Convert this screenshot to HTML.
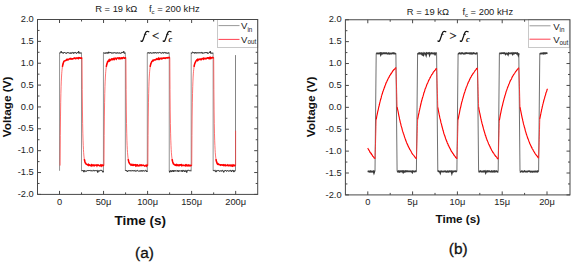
<!DOCTYPE html>
<html><head><meta charset="utf-8"><style>html,body{margin:0;padding:0;background:#fff;width:575px;height:263px;overflow:hidden}svg{display:block}</style></head>
<body>
<svg width="575" height="263" viewBox="0 0 575 263">
<style>text{font-family:"Liberation Sans",sans-serif;fill:#222}.tk{font-size:9.3px;fill:#222}.ti{font-size:9.4px;fill:#222}.ax{font-size:13.5px;font-weight:bold;fill:#111}.fr{font-family:"Liberation Serif",serif;font-style:italic;font-weight:bold;font-size:13px;fill:#111}.fi{font-family:"Liberation Serif",serif;font-style:italic;font-size:12.5px;fill:#111;stroke:#111;stroke-width:0.2}.op{font-family:"Liberation Serif",serif;font-size:12.5px;fill:#111;stroke:#111;stroke-width:0.3}.fc{font-family:"Liberation Serif",serif;font-style:italic;font-weight:bold;font-size:8.5px;fill:#111}.lg{font-size:9.6px;fill:#222}.sb{font-size:6.3px}</style>
<rect width="575" height="263" fill="#fff"/>
<path d="M59.55,170.79L59.55,52.91L59.96,52.95L60.36,53.01L60.77,52.47L61.18,51.35L61.58,52.64L61.99,52.88L62.39,52.88L62.80,52.56L63.21,53.27L63.61,53.15L64.02,52.47L64.43,53.00L64.83,52.44L65.24,52.88L65.64,53.28L66.05,53.33L66.46,53.21L66.86,53.34L67.27,52.50L67.68,52.62L68.08,52.84L68.49,52.71L68.89,52.79L69.30,52.99L69.71,53.31L70.11,53.33L70.52,53.40L70.93,52.57L71.33,53.37L71.74,52.98L72.15,52.62L72.55,52.98L72.96,52.47L73.36,53.40L73.77,53.21L74.18,52.56L74.58,53.17L74.99,52.45L75.40,52.45L75.80,52.74L76.21,53.39L76.61,53.40L77.02,52.48L77.43,52.44L77.83,52.81L78.24,52.56L78.65,51.32L79.05,53.36L79.46,52.78L79.86,52.93L80.27,53.00L80.68,53.03L81.08,52.91L81.49,52.91L81.49,170.79L81.90,171.01L82.30,170.59L82.71,170.81L83.12,170.30L83.52,170.87L83.93,172.14L84.33,170.35L84.74,170.75L85.15,170.64L85.55,171.03L85.96,171.64L86.37,171.25L86.77,170.74L87.18,170.61L87.58,170.60L87.99,170.88L88.40,170.67L88.80,170.32L89.21,171.02L89.62,170.51L90.02,170.53L90.43,170.72L90.83,170.39L91.24,170.62L91.65,170.73L92.05,170.46L92.46,170.94L92.87,170.74L93.27,170.41L93.68,170.48L94.09,171.13L94.49,170.57L94.90,170.93L95.30,170.63L95.71,170.58L96.12,170.56L96.52,170.71L96.93,170.70L97.34,170.44L97.74,172.44L98.15,171.28L98.55,171.24L98.96,170.51L99.37,171.13L99.77,170.81L100.18,170.63L100.59,170.36L100.99,170.58L101.40,170.33L101.80,170.98L102.21,171.19L102.62,170.87L103.02,172.26L103.43,170.79L103.43,52.91L103.84,52.71L104.24,52.93L104.65,53.34L105.06,52.75L105.46,53.27L105.87,53.19L106.27,52.60L106.68,53.22L107.09,53.20L107.49,53.21L107.90,52.41L108.31,53.27L108.71,51.86L109.12,52.93L109.52,52.88L109.93,52.41L110.34,52.53L110.74,52.47L111.15,53.26L111.56,52.91L111.96,52.72L112.37,53.05L112.77,52.77L113.18,52.73L113.59,52.96L113.99,52.79L114.40,52.58L114.81,53.01L115.21,52.79L115.62,53.03L116.03,52.78L116.43,53.11L116.84,53.10L117.24,52.65L117.65,53.10L118.06,52.83L118.46,53.29L118.87,52.78L119.28,53.20L119.68,52.87L120.09,53.22L120.49,53.29L120.90,53.07L121.31,52.97L121.71,52.99L122.12,51.98L122.53,52.45L122.93,52.51L123.34,52.59L123.74,51.35L124.15,53.25L124.56,53.24L124.96,52.98L125.37,52.91L125.37,170.79L125.78,170.32L126.18,170.80L126.59,170.40L127.00,171.22L127.40,171.88L127.81,171.12L128.21,170.47L128.62,170.90L129.03,170.68L129.43,170.69L129.84,170.71L130.25,170.79L130.65,170.70L131.06,170.45L131.46,171.04L131.87,170.81L132.28,170.93L132.68,170.44L133.09,171.04L133.50,170.81L133.90,171.01L134.31,170.56L134.71,170.87L135.12,170.52L135.53,171.24L135.93,170.99L136.34,171.14L136.75,170.56L137.15,170.31L137.56,170.67L137.97,170.65L138.37,171.06L138.78,171.28L139.18,170.89L139.59,171.12L140.00,170.85L140.40,171.01L140.81,170.69L141.22,171.25L141.62,170.52L142.03,171.01L142.43,171.25L142.84,170.53L143.25,170.55L143.65,170.99L144.06,171.19L144.47,171.15L144.87,170.71L145.28,170.37L145.68,171.12L146.09,170.65L146.50,170.96L146.90,171.89L147.31,170.79L147.31,52.91L147.72,52.89L148.12,52.99L148.53,52.80L148.94,52.53L149.34,53.07L149.75,53.29L150.15,52.50L150.56,52.78L150.97,53.16L151.37,53.08L151.78,53.21L152.19,53.16L152.59,53.08L153.00,52.52L153.40,52.76L153.81,53.08L154.22,52.59L154.62,53.04L155.03,53.30L155.44,52.53L155.84,52.55L156.25,53.13L156.65,52.96L157.06,52.86L157.47,52.58L157.87,53.12L158.28,52.95L158.69,52.77L159.09,52.79L159.50,52.45L159.91,52.65L160.31,52.76L160.72,52.81L161.12,53.18L161.53,53.25L161.94,52.68L162.34,52.52L162.75,53.13L163.16,52.60L163.56,53.15L163.97,53.15L164.37,52.55L164.78,52.60L165.19,52.97L165.59,52.66L166.00,52.44L166.41,53.30L166.81,52.79L167.22,52.99L167.62,53.38L168.03,52.71L168.44,52.89L168.84,53.13L169.25,52.91L169.25,170.79L169.66,172.28L170.06,170.78L170.47,170.75L170.88,170.82L171.28,172.04L171.69,170.73L172.09,171.25L172.50,170.42L172.91,170.91L173.31,171.91L173.72,170.37L174.13,171.22L174.53,171.16L174.94,170.42L175.34,170.89L175.75,171.00L176.16,170.63L176.56,171.22L176.97,170.73L177.38,170.77L177.78,170.33L178.19,171.77L178.59,170.79L179.00,170.83L179.41,170.94L179.81,170.75L180.22,170.69L180.63,171.19L181.03,170.66L181.44,170.82L181.85,170.51L182.25,171.78L182.66,170.43L183.06,170.48L183.47,170.46L183.88,170.46L184.28,171.69L184.69,170.78L185.10,171.61L185.50,170.70L185.91,170.34L186.31,170.69L186.72,172.46L187.13,170.38L187.53,170.45L187.94,170.63L188.35,170.34L188.75,170.56L189.16,170.75L189.56,170.59L189.97,170.55L190.38,170.92L190.78,170.38L191.19,170.79L191.19,52.91L191.60,53.38L192.00,52.41L192.41,52.02L192.82,52.44L193.22,53.06L193.63,52.61L194.03,52.88L194.44,53.32L194.85,52.44L195.25,53.01L195.66,52.49L196.07,53.26L196.47,52.80L196.88,53.09L197.28,52.58L197.69,53.14L198.10,52.96L198.50,52.77L198.91,52.64L199.32,52.89L199.72,52.58L200.13,53.01L200.53,52.79L200.94,52.56L201.35,52.43L201.75,53.16L202.16,52.50L202.57,53.25L202.97,53.28L203.38,52.86L203.79,53.14L204.19,52.78L204.60,52.81L205.00,52.51L205.41,52.52L205.82,53.06L206.22,52.45L206.63,53.05L207.04,52.42L207.44,53.37L207.85,52.97L208.25,53.19L208.66,53.19L209.07,52.59L209.47,52.49L209.88,52.52L210.29,51.24L210.69,53.30L211.10,52.87L211.50,53.24L211.91,53.05L212.32,53.28L212.72,53.01L213.13,52.91L213.13,170.79L213.54,170.40L213.94,170.88L214.35,170.49L214.76,170.75L215.16,170.37L215.57,170.77L215.97,172.09L216.38,170.71L216.79,170.89L217.19,170.64L217.60,170.62L218.01,170.37L218.41,170.45L218.82,171.01L219.22,171.28L219.63,171.22L220.04,170.71L220.44,171.19L220.85,170.77L221.26,170.70L221.66,171.21L222.07,171.22L222.47,170.38L222.88,170.58L223.29,170.93L223.69,172.26L224.10,170.72L224.51,171.03L224.91,170.58L225.32,170.59L225.73,170.37L226.13,171.05L226.54,171.26L226.94,171.16L227.35,170.45L227.76,170.75L228.16,170.83L228.57,171.14L228.98,170.75L229.38,171.10L229.79,170.53L230.19,170.30L230.60,170.82L231.01,170.45L231.41,171.77L231.82,170.75L232.23,171.07L232.63,170.32L233.04,170.30L233.44,170.63L233.85,172.08L234.26,170.60L234.66,171.09L235.07,170.79" fill="none" stroke="#666" stroke-width="0.7"/>
<path d="M235.5,171.2V55.1" stroke="#777" stroke-width="0.9" fill="none"/>
<path d="M59.55,52.91L59.96,52.95L60.36,53.01L60.77,52.47L61.18,51.35L61.58,52.64L61.99,52.88L62.39,52.88L62.80,52.56L63.21,53.27L63.61,53.15L64.02,52.47L64.43,53.00L64.83,52.44L65.24,52.88L65.64,53.28L66.05,53.33L66.46,53.21L66.86,53.34L67.27,52.50L67.68,52.62L68.08,52.84L68.49,52.71L68.89,52.79L69.30,52.99L69.71,53.31L70.11,53.33L70.52,53.40L70.93,52.57L71.33,53.37L71.74,52.98L72.15,52.62L72.55,52.98L72.96,52.47L73.36,53.40L73.77,53.21L74.18,52.56L74.58,53.17L74.99,52.45L75.40,52.45L75.80,52.74L76.21,53.39L76.61,53.40L77.02,52.48L77.43,52.44L77.83,52.81L78.24,52.56L78.65,51.32L79.05,53.36L79.46,52.78L79.86,52.93L80.27,53.00L80.68,53.03L81.08,52.91L81.49,52.91M81.49,170.79L81.90,171.01L82.30,170.59L82.71,170.81L83.12,170.30L83.52,170.87L83.93,172.14L84.33,170.35L84.74,170.75L85.15,170.64L85.55,171.03L85.96,171.64L86.37,171.25L86.77,170.74L87.18,170.61L87.58,170.60L87.99,170.88L88.40,170.67L88.80,170.32L89.21,171.02L89.62,170.51L90.02,170.53L90.43,170.72L90.83,170.39L91.24,170.62L91.65,170.73L92.05,170.46L92.46,170.94L92.87,170.74L93.27,170.41L93.68,170.48L94.09,171.13L94.49,170.57L94.90,170.93L95.30,170.63L95.71,170.58L96.12,170.56L96.52,170.71L96.93,170.70L97.34,170.44L97.74,172.44L98.15,171.28L98.55,171.24L98.96,170.51L99.37,171.13L99.77,170.81L100.18,170.63L100.59,170.36L100.99,170.58L101.40,170.33L101.80,170.98L102.21,171.19L102.62,170.87L103.02,172.26L103.43,170.79M103.43,52.91L103.84,52.71L104.24,52.93L104.65,53.34L105.06,52.75L105.46,53.27L105.87,53.19L106.27,52.60L106.68,53.22L107.09,53.20L107.49,53.21L107.90,52.41L108.31,53.27L108.71,51.86L109.12,52.93L109.52,52.88L109.93,52.41L110.34,52.53L110.74,52.47L111.15,53.26L111.56,52.91L111.96,52.72L112.37,53.05L112.77,52.77L113.18,52.73L113.59,52.96L113.99,52.79L114.40,52.58L114.81,53.01L115.21,52.79L115.62,53.03L116.03,52.78L116.43,53.11L116.84,53.10L117.24,52.65L117.65,53.10L118.06,52.83L118.46,53.29L118.87,52.78L119.28,53.20L119.68,52.87L120.09,53.22L120.49,53.29L120.90,53.07L121.31,52.97L121.71,52.99L122.12,51.98L122.53,52.45L122.93,52.51L123.34,52.59L123.74,51.35L124.15,53.25L124.56,53.24L124.96,52.98L125.37,52.91M125.37,170.79L125.78,170.32L126.18,170.80L126.59,170.40L127.00,171.22L127.40,171.88L127.81,171.12L128.21,170.47L128.62,170.90L129.03,170.68L129.43,170.69L129.84,170.71L130.25,170.79L130.65,170.70L131.06,170.45L131.46,171.04L131.87,170.81L132.28,170.93L132.68,170.44L133.09,171.04L133.50,170.81L133.90,171.01L134.31,170.56L134.71,170.87L135.12,170.52L135.53,171.24L135.93,170.99L136.34,171.14L136.75,170.56L137.15,170.31L137.56,170.67L137.97,170.65L138.37,171.06L138.78,171.28L139.18,170.89L139.59,171.12L140.00,170.85L140.40,171.01L140.81,170.69L141.22,171.25L141.62,170.52L142.03,171.01L142.43,171.25L142.84,170.53L143.25,170.55L143.65,170.99L144.06,171.19L144.47,171.15L144.87,170.71L145.28,170.37L145.68,171.12L146.09,170.65L146.50,170.96L146.90,171.89L147.31,170.79M147.31,52.91L147.72,52.89L148.12,52.99L148.53,52.80L148.94,52.53L149.34,53.07L149.75,53.29L150.15,52.50L150.56,52.78L150.97,53.16L151.37,53.08L151.78,53.21L152.19,53.16L152.59,53.08L153.00,52.52L153.40,52.76L153.81,53.08L154.22,52.59L154.62,53.04L155.03,53.30L155.44,52.53L155.84,52.55L156.25,53.13L156.65,52.96L157.06,52.86L157.47,52.58L157.87,53.12L158.28,52.95L158.69,52.77L159.09,52.79L159.50,52.45L159.91,52.65L160.31,52.76L160.72,52.81L161.12,53.18L161.53,53.25L161.94,52.68L162.34,52.52L162.75,53.13L163.16,52.60L163.56,53.15L163.97,53.15L164.37,52.55L164.78,52.60L165.19,52.97L165.59,52.66L166.00,52.44L166.41,53.30L166.81,52.79L167.22,52.99L167.62,53.38L168.03,52.71L168.44,52.89L168.84,53.13L169.25,52.91M169.25,170.79L169.66,172.28L170.06,170.78L170.47,170.75L170.88,170.82L171.28,172.04L171.69,170.73L172.09,171.25L172.50,170.42L172.91,170.91L173.31,171.91L173.72,170.37L174.13,171.22L174.53,171.16L174.94,170.42L175.34,170.89L175.75,171.00L176.16,170.63L176.56,171.22L176.97,170.73L177.38,170.77L177.78,170.33L178.19,171.77L178.59,170.79L179.00,170.83L179.41,170.94L179.81,170.75L180.22,170.69L180.63,171.19L181.03,170.66L181.44,170.82L181.85,170.51L182.25,171.78L182.66,170.43L183.06,170.48L183.47,170.46L183.88,170.46L184.28,171.69L184.69,170.78L185.10,171.61L185.50,170.70L185.91,170.34L186.31,170.69L186.72,172.46L187.13,170.38L187.53,170.45L187.94,170.63L188.35,170.34L188.75,170.56L189.16,170.75L189.56,170.59L189.97,170.55L190.38,170.92L190.78,170.38L191.19,170.79M191.19,52.91L191.60,53.38L192.00,52.41L192.41,52.02L192.82,52.44L193.22,53.06L193.63,52.61L194.03,52.88L194.44,53.32L194.85,52.44L195.25,53.01L195.66,52.49L196.07,53.26L196.47,52.80L196.88,53.09L197.28,52.58L197.69,53.14L198.10,52.96L198.50,52.77L198.91,52.64L199.32,52.89L199.72,52.58L200.13,53.01L200.53,52.79L200.94,52.56L201.35,52.43L201.75,53.16L202.16,52.50L202.57,53.25L202.97,53.28L203.38,52.86L203.79,53.14L204.19,52.78L204.60,52.81L205.00,52.51L205.41,52.52L205.82,53.06L206.22,52.45L206.63,53.05L207.04,52.42L207.44,53.37L207.85,52.97L208.25,53.19L208.66,53.19L209.07,52.59L209.47,52.49L209.88,52.52L210.29,51.24L210.69,53.30L211.10,52.87L211.50,53.24L211.91,53.05L212.32,53.28L212.72,53.01L213.13,52.91M213.13,170.79L213.54,170.40L213.94,170.88L214.35,170.49L214.76,170.75L215.16,170.37L215.57,170.77L215.97,172.09L216.38,170.71L216.79,170.89L217.19,170.64L217.60,170.62L218.01,170.37L218.41,170.45L218.82,171.01L219.22,171.28L219.63,171.22L220.04,170.71L220.44,171.19L220.85,170.77L221.26,170.70L221.66,171.21L222.07,171.22L222.47,170.38L222.88,170.58L223.29,170.93L223.69,172.26L224.10,170.72L224.51,171.03L224.91,170.58L225.32,170.59L225.73,170.37L226.13,171.05L226.54,171.26L226.94,171.16L227.35,170.45L227.76,170.75L228.16,170.83L228.57,171.14L228.98,170.75L229.38,171.10L229.79,170.53L230.19,170.30L230.60,170.82L231.01,170.45L231.41,171.77L231.82,170.75L232.23,171.07L232.63,170.32L233.04,170.30L233.44,170.63L233.85,172.08L234.26,170.60L234.66,171.09L235.07,170.79" fill="none" stroke="#333" stroke-width="1.0"/>
<path d="M60.10,165.59L60.30,135.54L60.50,116.05L60.70,102.79L60.90,93.36L61.10,86.40L61.30,81.13L61.50,77.05L61.70,73.85L61.90,71.31L62.10,69.27L62.40,66.94L62.70,65.23L63.00,63.97L63.30,62.95L63.70,61.89L64.10,61.04L64.60,60.87L65.00,60.74L65.40,60.53L65.80,60.56L66.20,60.27L66.60,59.56L67.00,59.31L67.40,59.81L67.80,59.73L68.20,59.34L68.60,59.57L69.00,59.20L69.40,58.84L69.80,58.65L70.20,58.42L70.60,58.98L71.00,59.16L71.40,59.11L71.80,58.61L72.20,58.75L72.60,58.96L73.00,58.80L73.40,58.54L73.80,58.31L74.20,58.37L74.60,57.98L75.00,57.95L75.40,58.42L75.80,58.69L76.20,58.22L76.60,58.05L77.00,57.96L77.40,58.04L77.80,58.36L78.20,57.99L78.60,58.47L79.00,57.65L79.40,57.79L79.80,57.97L80.20,57.85L80.60,58.27L81.00,58.23L81.40,58.32L81.80,57.87L82.04,57.86L82.04,57.63L82.24,89.55L82.44,109.95L82.64,123.62L82.84,133.21L83.04,140.20L83.24,145.44L83.44,149.45L83.64,152.58L83.84,155.04L84.04,156.98L84.34,159.19L84.64,160.77L84.94,161.91L85.24,162.84L85.64,163.01L86.04,164.06L86.54,164.43L86.94,164.57L87.34,164.50L87.74,165.04L88.14,165.31L88.54,164.56L88.94,165.17L89.34,164.92L89.74,165.09L90.14,165.50L90.54,165.59L90.94,165.30L91.34,164.87L91.74,165.62L92.14,164.90L92.54,165.12L92.94,165.58L93.34,165.09L93.74,165.06L94.14,165.75L94.54,165.76L94.94,165.14L95.34,165.23L95.74,165.13L96.14,164.99L96.54,165.12L96.94,165.86L97.34,164.97L97.74,165.13L98.14,165.11L98.54,165.00L98.94,165.45L99.34,165.68L99.74,165.78L100.14,165.58L100.54,165.77L100.94,164.97L101.34,165.25L101.74,165.94L102.14,165.05L102.54,165.25L102.94,165.47L103.34,165.26L103.74,165.50L103.98,165.50L103.98,165.59L104.18,135.54L104.38,116.05L104.58,102.79L104.78,93.36L104.98,86.40L105.18,81.13L105.38,77.05L105.58,73.85L105.78,71.31L105.98,69.27L106.28,66.94L106.58,65.23L106.88,63.97L107.18,63.08L107.58,61.68L107.98,61.23L108.48,61.39L108.88,60.25L109.28,60.76L109.68,59.82L110.08,60.46L110.48,59.99L110.88,59.82L111.28,59.19L111.68,58.99L112.08,59.59L112.48,58.91L112.88,58.84L113.28,59.38L113.68,59.35L114.08,58.45L114.48,59.29L114.88,58.80L115.28,58.59L115.68,58.25L116.08,58.48L116.48,59.02L116.88,58.26L117.28,58.07L117.68,58.04L118.08,57.98L118.48,58.16L118.88,58.69L119.28,57.81L119.68,57.89L120.08,58.61L120.48,58.64L120.88,58.59L121.28,57.83L121.68,57.91L122.08,58.49L122.48,58.00L122.88,58.19L123.28,57.78L123.68,57.47L124.08,57.78L124.48,58.17L124.88,58.18L125.28,57.95L125.68,57.87L125.92,57.86L125.92,57.63L126.12,89.55L126.32,109.95L126.52,123.62L126.72,133.21L126.92,140.20L127.12,145.44L127.32,149.45L127.52,152.58L127.72,155.04L127.92,156.98L128.22,159.19L128.52,160.77L128.82,161.91L129.12,162.69L129.52,163.52L129.92,163.92L130.42,164.41L130.82,164.92L131.22,164.42L131.62,164.92L132.02,165.33L132.42,165.31L132.82,164.69L133.22,165.51L133.62,165.42L134.02,164.77L134.42,164.90L134.82,164.86L135.22,164.73L135.62,165.68L136.02,165.13L136.42,165.61L136.82,164.87L137.22,164.78L137.62,165.65L138.02,165.59L138.42,165.81L138.82,165.51L139.22,165.36L139.62,165.62L140.02,164.96L140.42,165.41L140.82,165.33L141.22,165.04L141.62,165.50L142.02,165.24L142.42,165.43L142.82,165.30L143.22,165.25L143.62,165.30L144.02,165.55L144.42,165.94L144.82,165.90L145.22,165.83L145.62,165.81L146.02,165.27L146.42,165.96L146.82,165.26L147.22,165.12L147.62,165.50L147.86,165.50L147.86,165.59L148.06,135.54L148.26,116.05L148.46,102.79L148.66,93.36L148.86,86.40L149.06,81.13L149.26,77.05L149.46,73.85L149.66,71.31L149.86,69.27L150.16,66.94L150.46,65.23L150.76,63.97L151.06,63.04L151.46,62.36L151.86,61.34L152.36,61.08L152.76,60.39L153.16,60.82L153.56,60.10L153.96,59.94L154.36,59.84L154.76,60.05L155.16,60.04L155.56,59.47L155.96,59.28L156.36,59.35L156.76,58.71L157.16,58.99L157.56,59.33L157.96,59.18L158.36,58.39L158.76,59.12L159.16,58.59L159.56,59.12L159.96,58.45L160.36,58.25L160.76,58.53L161.16,58.82L161.56,58.32L161.96,58.72L162.36,58.52L162.76,58.13L163.16,58.04L163.56,58.21L163.96,58.07L164.36,58.01L164.76,58.26L165.16,58.46L165.56,58.14L165.96,57.68L166.36,57.73L166.76,57.86L167.16,58.09L167.56,57.59L167.96,57.52L168.36,57.74L168.76,57.68L169.16,57.42L169.56,57.87L169.80,57.86L169.80,57.63L170.00,89.55L170.20,109.95L170.40,123.62L170.60,133.21L170.80,140.20L171.00,145.44L171.20,149.45L171.40,152.58L171.60,155.04L171.80,156.98L172.10,159.19L172.40,160.77L172.70,161.91L173.00,162.77L173.40,163.90L173.80,164.02L174.30,164.62L174.70,164.91L175.10,165.06L175.50,165.24L175.90,164.84L176.30,165.14L176.70,164.63L177.10,165.42L177.50,164.96L177.90,165.08L178.30,165.52L178.70,164.94L179.10,164.87L179.50,165.52L179.90,165.32L180.30,164.82L180.70,164.78L181.10,165.12L181.50,164.79L181.90,165.63L182.30,165.00L182.70,165.10L183.10,165.23L183.50,165.36L183.90,165.30L184.30,165.50L184.70,165.54L185.10,165.33L185.50,165.00L185.90,165.89L186.30,165.61L186.70,165.01L187.10,165.38L187.50,165.70L187.90,165.94L188.30,165.02L188.70,164.97L189.10,165.45L189.50,165.40L189.90,165.87L190.30,165.81L190.70,165.32L191.10,165.41L191.50,165.50L191.74,165.50L191.74,165.59L191.94,135.54L192.14,116.05L192.34,102.79L192.54,93.36L192.74,86.40L192.94,81.13L193.14,77.05L193.34,73.85L193.54,71.31L193.74,69.27L194.04,66.94L194.34,65.23L194.64,63.97L194.94,63.12L195.34,62.52L195.74,61.20L196.24,60.83L196.64,60.20L197.04,60.49L197.44,59.67L197.84,60.40L198.24,59.84L198.64,59.75L199.04,59.14L199.44,59.17L199.84,59.30L200.24,59.59L200.64,59.18L201.04,58.84L201.44,59.46L201.84,59.07L202.24,58.86L202.64,58.47L203.04,58.50L203.44,59.04L203.84,58.22L204.24,58.56L204.64,58.60L205.04,58.29L205.44,58.66L205.84,58.76L206.24,58.67L206.64,58.51L207.04,57.94L207.44,57.76L207.84,58.10L208.24,57.95L208.64,57.80L209.04,58.46L209.44,57.77L209.84,58.36L210.24,58.45L210.64,57.61L211.04,58.38L211.44,57.85L211.84,57.65L212.24,57.60L212.64,57.44L213.04,57.88L213.44,57.87L213.68,57.86L213.68,57.63L213.88,89.55L214.08,109.95L214.28,123.62L214.48,133.21L214.68,140.20L214.88,145.44L215.08,149.45L215.28,152.58L215.48,155.04L215.68,156.98L215.98,159.19L216.28,160.77L216.58,161.91L216.88,162.61L217.28,163.84L217.68,164.31L218.18,163.93L218.58,164.48L218.98,164.61L219.38,164.50L219.78,164.65L220.18,164.72L220.58,165.20L220.98,164.88L221.38,164.69L221.78,164.83L222.18,165.07L222.58,165.22L222.98,164.92L223.38,165.40L223.78,164.93L224.18,165.41L224.58,165.36L224.98,164.95L225.38,165.54L225.78,165.19L226.18,165.35L226.58,165.42L226.98,165.47L227.38,165.29L227.78,164.92L228.18,165.66L228.58,165.74L228.98,165.38L229.38,165.48L229.78,165.18L230.18,165.82L230.58,165.61L230.98,165.16L231.38,165.76L231.78,165.94L232.18,165.30L232.58,165.96L232.98,165.45L233.38,165.15L233.78,165.70L234.18,165.32L234.58,165.72L234.98,165.58L235.38,165.50L235.62,165.50L235.62,130.69" fill="none" stroke="#f33" stroke-width="0.7"/>
<path d="M62.40,66.94L62.70,65.23L63.00,63.97L63.30,62.95L63.70,61.89L64.10,61.04L64.60,60.87L65.00,60.74L65.40,60.53L65.80,60.56L66.20,60.27L66.60,59.56L67.00,59.31L67.40,59.81L67.80,59.73L68.20,59.34L68.60,59.57L69.00,59.20L69.40,58.84L69.80,58.65L70.20,58.42L70.60,58.98L71.00,59.16L71.40,59.11L71.80,58.61L72.20,58.75L72.60,58.96L73.00,58.80L73.40,58.54L73.80,58.31L74.20,58.37L74.60,57.98L75.00,57.95L75.40,58.42L75.80,58.69L76.20,58.22L76.60,58.05L77.00,57.96L77.40,58.04L77.80,58.36L78.20,57.99L78.60,58.47L79.00,57.65L79.40,57.79L79.80,57.97L80.20,57.85L80.60,58.27L81.00,58.23L81.40,58.32L81.80,57.87L82.04,57.86M84.34,159.19L84.64,160.77L84.94,161.91L85.24,162.84L85.64,163.01L86.04,164.06L86.54,164.43L86.94,164.57L87.34,164.50L87.74,165.04L88.14,165.31L88.54,164.56L88.94,165.17L89.34,164.92L89.74,165.09L90.14,165.50L90.54,165.59L90.94,165.30L91.34,164.87L91.74,165.62L92.14,164.90L92.54,165.12L92.94,165.58L93.34,165.09L93.74,165.06L94.14,165.75L94.54,165.76L94.94,165.14L95.34,165.23L95.74,165.13L96.14,164.99L96.54,165.12L96.94,165.86L97.34,164.97L97.74,165.13L98.14,165.11L98.54,165.00L98.94,165.45L99.34,165.68L99.74,165.78L100.14,165.58L100.54,165.77L100.94,164.97L101.34,165.25L101.74,165.94L102.14,165.05L102.54,165.25L102.94,165.47L103.34,165.26L103.74,165.50L103.98,165.50M106.28,66.94L106.58,65.23L106.88,63.97L107.18,63.08L107.58,61.68L107.98,61.23L108.48,61.39L108.88,60.25L109.28,60.76L109.68,59.82L110.08,60.46L110.48,59.99L110.88,59.82L111.28,59.19L111.68,58.99L112.08,59.59L112.48,58.91L112.88,58.84L113.28,59.38L113.68,59.35L114.08,58.45L114.48,59.29L114.88,58.80L115.28,58.59L115.68,58.25L116.08,58.48L116.48,59.02L116.88,58.26L117.28,58.07L117.68,58.04L118.08,57.98L118.48,58.16L118.88,58.69L119.28,57.81L119.68,57.89L120.08,58.61L120.48,58.64L120.88,58.59L121.28,57.83L121.68,57.91L122.08,58.49L122.48,58.00L122.88,58.19L123.28,57.78L123.68,57.47L124.08,57.78L124.48,58.17L124.88,58.18L125.28,57.95L125.68,57.87L125.92,57.86M128.22,159.19L128.52,160.77L128.82,161.91L129.12,162.69L129.52,163.52L129.92,163.92L130.42,164.41L130.82,164.92L131.22,164.42L131.62,164.92L132.02,165.33L132.42,165.31L132.82,164.69L133.22,165.51L133.62,165.42L134.02,164.77L134.42,164.90L134.82,164.86L135.22,164.73L135.62,165.68L136.02,165.13L136.42,165.61L136.82,164.87L137.22,164.78L137.62,165.65L138.02,165.59L138.42,165.81L138.82,165.51L139.22,165.36L139.62,165.62L140.02,164.96L140.42,165.41L140.82,165.33L141.22,165.04L141.62,165.50L142.02,165.24L142.42,165.43L142.82,165.30L143.22,165.25L143.62,165.30L144.02,165.55L144.42,165.94L144.82,165.90L145.22,165.83L145.62,165.81L146.02,165.27L146.42,165.96L146.82,165.26L147.22,165.12L147.62,165.50L147.86,165.50M150.16,66.94L150.46,65.23L150.76,63.97L151.06,63.04L151.46,62.36L151.86,61.34L152.36,61.08L152.76,60.39L153.16,60.82L153.56,60.10L153.96,59.94L154.36,59.84L154.76,60.05L155.16,60.04L155.56,59.47L155.96,59.28L156.36,59.35L156.76,58.71L157.16,58.99L157.56,59.33L157.96,59.18L158.36,58.39L158.76,59.12L159.16,58.59L159.56,59.12L159.96,58.45L160.36,58.25L160.76,58.53L161.16,58.82L161.56,58.32L161.96,58.72L162.36,58.52L162.76,58.13L163.16,58.04L163.56,58.21L163.96,58.07L164.36,58.01L164.76,58.26L165.16,58.46L165.56,58.14L165.96,57.68L166.36,57.73L166.76,57.86L167.16,58.09L167.56,57.59L167.96,57.52L168.36,57.74L168.76,57.68L169.16,57.42L169.56,57.87L169.80,57.86M172.10,159.19L172.40,160.77L172.70,161.91L173.00,162.77L173.40,163.90L173.80,164.02L174.30,164.62L174.70,164.91L175.10,165.06L175.50,165.24L175.90,164.84L176.30,165.14L176.70,164.63L177.10,165.42L177.50,164.96L177.90,165.08L178.30,165.52L178.70,164.94L179.10,164.87L179.50,165.52L179.90,165.32L180.30,164.82L180.70,164.78L181.10,165.12L181.50,164.79L181.90,165.63L182.30,165.00L182.70,165.10L183.10,165.23L183.50,165.36L183.90,165.30L184.30,165.50L184.70,165.54L185.10,165.33L185.50,165.00L185.90,165.89L186.30,165.61L186.70,165.01L187.10,165.38L187.50,165.70L187.90,165.94L188.30,165.02L188.70,164.97L189.10,165.45L189.50,165.40L189.90,165.87L190.30,165.81L190.70,165.32L191.10,165.41L191.50,165.50L191.74,165.50M194.04,66.94L194.34,65.23L194.64,63.97L194.94,63.12L195.34,62.52L195.74,61.20L196.24,60.83L196.64,60.20L197.04,60.49L197.44,59.67L197.84,60.40L198.24,59.84L198.64,59.75L199.04,59.14L199.44,59.17L199.84,59.30L200.24,59.59L200.64,59.18L201.04,58.84L201.44,59.46L201.84,59.07L202.24,58.86L202.64,58.47L203.04,58.50L203.44,59.04L203.84,58.22L204.24,58.56L204.64,58.60L205.04,58.29L205.44,58.66L205.84,58.76L206.24,58.67L206.64,58.51L207.04,57.94L207.44,57.76L207.84,58.10L208.24,57.95L208.64,57.80L209.04,58.46L209.44,57.77L209.84,58.36L210.24,58.45L210.64,57.61L211.04,58.38L211.44,57.85L211.84,57.65L212.24,57.60L212.64,57.44L213.04,57.88L213.44,57.87L213.68,57.86M215.98,159.19L216.28,160.77L216.58,161.91L216.88,162.61L217.28,163.84L217.68,164.31L218.18,163.93L218.58,164.48L218.98,164.61L219.38,164.50L219.78,164.65L220.18,164.72L220.58,165.20L220.98,164.88L221.38,164.69L221.78,164.83L222.18,165.07L222.58,165.22L222.98,164.92L223.38,165.40L223.78,164.93L224.18,165.41L224.58,165.36L224.98,164.95L225.38,165.54L225.78,165.19L226.18,165.35L226.58,165.42L226.98,165.47L227.38,165.29L227.78,164.92L228.18,165.66L228.58,165.74L228.98,165.38L229.38,165.48L229.78,165.18L230.18,165.82L230.58,165.61L230.98,165.16L231.38,165.76L231.78,165.94L232.18,165.30L232.58,165.96L232.98,165.45L233.38,165.15L233.78,165.70L234.18,165.32L234.58,165.72L234.98,165.58L235.38,165.50L235.62,165.50" fill="none" stroke="#f00" stroke-width="1.5"/>
<path d="M367.70,171.44L368.22,171.46L368.74,171.43L369.26,171.70L369.79,171.44L370.31,171.67L370.83,171.16L371.35,171.48L371.87,171.72L372.39,171.47L372.91,171.68L373.44,171.30L373.96,172.86L374.48,171.34L375.00,171.44L376.20,53.39L376.71,53.43L377.21,53.53L377.72,53.31L378.22,53.42L378.73,53.54L379.23,53.31L379.74,53.32L380.24,53.11L380.75,54.62L381.25,53.39L381.76,53.11L382.26,53.68L382.77,53.40L383.27,53.08L383.78,53.26L384.28,53.12L384.79,53.37L385.29,53.22L385.80,53.17L386.30,53.39L386.81,53.19L387.31,53.59L387.82,53.67L388.32,53.53L388.83,53.19L389.33,53.72L389.84,53.57L390.34,53.50L390.85,53.39L391.35,53.65L391.86,53.39L392.36,53.34L392.87,53.22L393.37,53.45L393.88,53.07L394.38,53.49L394.89,53.57L395.39,53.70L395.90,53.39L397.10,171.44L397.61,171.60L398.12,171.12L398.62,171.62L399.13,171.24L399.64,171.78L400.15,171.43L400.66,171.20L401.16,171.56L401.67,171.21L402.18,171.53L402.69,171.19L403.19,172.32L403.70,171.37L404.21,171.79L404.72,171.28L405.23,171.10L405.73,171.58L406.24,171.12L406.75,171.32L407.26,171.17L407.77,171.37L408.27,171.41L408.78,171.32L409.29,171.41L409.80,171.34L410.31,171.39L410.81,171.32L411.32,171.48L411.83,171.30L412.34,172.27L412.84,171.23L413.35,171.28L413.86,171.52L414.37,171.61L414.88,171.39L415.38,171.14L415.89,171.44L416.40,171.44L417.60,53.39L418.10,53.69L418.60,53.47L419.10,53.13L419.60,53.15L420.10,53.74L420.60,53.39L421.10,53.21L421.60,53.33L422.10,54.61L422.60,54.82L423.10,53.67L423.60,54.79L424.10,53.37L424.60,53.25L425.10,53.47L425.60,53.71L426.10,55.05L426.60,53.10L427.10,53.41L427.60,53.39L428.10,53.09L428.60,53.40L429.10,53.04L429.60,54.80L430.10,53.33L430.60,53.43L431.10,53.36L431.60,53.06L432.10,53.55L432.60,53.37L433.10,53.29L433.60,53.56L434.10,53.37L434.60,53.27L435.10,54.40L435.60,53.46L436.10,53.16L436.60,53.39L437.80,171.44L438.30,171.22L438.81,171.27L439.31,171.49L439.81,171.40L440.31,172.90L440.82,171.35L441.32,171.29L441.82,171.25L442.32,171.52L442.83,171.60L443.33,171.63L443.83,171.36L444.33,171.40L444.84,171.37L445.34,171.60L445.84,171.23L446.34,171.65L446.85,171.78L447.35,171.64L447.85,171.18L448.36,171.76L448.86,171.69L449.36,171.40L449.86,171.25L450.37,171.39L450.87,171.40L451.37,171.27L451.87,173.10L452.38,171.36L452.88,171.29L453.38,171.72L453.88,171.25L454.39,171.25L454.89,171.33L455.39,171.25L455.89,171.49L456.40,171.45L456.90,171.44L458.10,53.39L458.61,53.62L459.12,53.56L459.62,53.09L460.13,53.18L460.64,53.71L461.15,53.68L461.66,53.12L462.16,53.08L462.67,53.22L463.18,53.70L463.69,53.68L464.19,53.50L464.70,53.67L465.21,53.28L465.72,53.45L466.23,53.12L466.73,53.05L467.24,53.28L467.75,53.27L468.26,53.26L468.77,53.32L469.27,53.24L469.78,53.58L470.29,53.57L470.80,53.12L471.31,53.63L471.81,53.30L472.32,53.63L472.83,53.29L473.34,53.04L473.84,53.37L474.35,53.35L474.86,53.54L475.37,53.72L475.88,53.64L476.38,53.59L476.89,53.09L477.40,53.39L478.60,171.44L479.10,171.68L479.61,171.71L480.11,171.13L480.61,171.17L481.11,171.41L481.62,171.65L482.12,171.57L482.62,171.48L483.12,171.72L483.63,171.15L484.13,171.29L484.63,171.11L485.13,171.60L485.64,172.70L486.14,171.24L486.64,171.62L487.14,171.63L487.65,171.10L488.15,171.47L488.65,171.25L489.15,171.18L489.66,171.41L490.16,171.56L490.66,171.60L491.16,171.70L491.67,171.26L492.17,171.72L492.67,171.37L493.17,171.58L493.68,171.33L494.18,171.64L494.68,171.15L495.18,171.61L495.69,171.38L496.19,171.40L496.69,171.16L497.19,171.51L497.70,171.76L498.20,171.44L499.40,53.39L499.91,53.36L500.42,53.46L500.93,53.38L501.44,53.38L501.95,53.17L502.46,53.25L502.97,53.09L503.48,53.35L503.99,53.18L504.51,53.13L505.02,53.44L505.53,54.35L506.04,53.71L506.55,53.43L507.06,53.50L507.57,53.51L508.08,54.58L508.59,53.07L509.10,53.26L509.61,53.47L510.12,53.38L510.63,53.40L511.14,53.08L511.65,53.29L512.16,53.28L512.67,54.22L513.18,53.10L513.69,53.44L514.21,53.53L514.72,53.08L515.23,53.20L515.74,53.14L516.25,53.21L516.76,53.61L517.27,53.14L517.78,53.53L518.29,55.02L518.80,53.39L520.00,171.44L520.50,171.75L521.01,171.53L521.51,171.28L522.01,171.18L522.51,171.65L523.02,171.62L523.52,171.71L524.02,171.58L524.52,171.12L525.03,171.35L525.53,171.56L526.03,171.61L526.54,171.58L527.04,171.45L527.54,171.66L528.04,171.34L528.55,171.25L529.05,171.09L529.55,171.43L530.05,171.49L530.56,171.77L531.06,171.50L531.56,171.71L532.06,171.67L532.57,171.79L533.07,171.37L533.57,171.55L534.08,171.62L534.58,171.67L535.08,171.31L535.58,171.56L536.09,171.49L536.59,171.54L537.09,171.29L537.59,171.71L538.10,171.29L538.60,171.44L539.80,53.39L540.31,53.55L540.81,53.49L541.32,53.54L541.83,53.30L542.33,53.35L542.84,53.56L543.35,53.11L543.85,53.70L544.36,53.44L544.87,53.06L545.37,53.47L545.88,53.25L546.39,53.12L546.89,53.22L547.40,53.39" fill="none" stroke="#606060" stroke-width="0.9"/>
<path d="M367.70,171.44L368.22,171.46L368.74,171.43L369.26,171.70L369.79,171.44L370.31,171.67L370.83,171.16L371.35,171.48L371.87,171.72L372.39,171.47L372.91,171.68L373.44,171.30L373.96,172.86L374.48,171.34L375.00,171.44M376.20,53.39L376.71,53.43L377.21,53.53L377.72,53.31L378.22,53.42L378.73,53.54L379.23,53.31L379.74,53.32L380.24,53.11L380.75,54.62L381.25,53.39L381.76,53.11L382.26,53.68L382.77,53.40L383.27,53.08L383.78,53.26L384.28,53.12L384.79,53.37L385.29,53.22L385.80,53.17L386.30,53.39L386.81,53.19L387.31,53.59L387.82,53.67L388.32,53.53L388.83,53.19L389.33,53.72L389.84,53.57L390.34,53.50L390.85,53.39L391.35,53.65L391.86,53.39L392.36,53.34L392.87,53.22L393.37,53.45L393.88,53.07L394.38,53.49L394.89,53.57L395.39,53.70L395.90,53.39M397.10,171.44L397.61,171.60L398.12,171.12L398.62,171.62L399.13,171.24L399.64,171.78L400.15,171.43L400.66,171.20L401.16,171.56L401.67,171.21L402.18,171.53L402.69,171.19L403.19,172.32L403.70,171.37L404.21,171.79L404.72,171.28L405.23,171.10L405.73,171.58L406.24,171.12L406.75,171.32L407.26,171.17L407.77,171.37L408.27,171.41L408.78,171.32L409.29,171.41L409.80,171.34L410.31,171.39L410.81,171.32L411.32,171.48L411.83,171.30L412.34,172.27L412.84,171.23L413.35,171.28L413.86,171.52L414.37,171.61L414.88,171.39L415.38,171.14L415.89,171.44L416.40,171.44M417.60,53.39L418.10,53.69L418.60,53.47L419.10,53.13L419.60,53.15L420.10,53.74L420.60,53.39L421.10,53.21L421.60,53.33L422.10,54.61L422.60,54.82L423.10,53.67L423.60,54.79L424.10,53.37L424.60,53.25L425.10,53.47L425.60,53.71L426.10,55.05L426.60,53.10L427.10,53.41L427.60,53.39L428.10,53.09L428.60,53.40L429.10,53.04L429.60,54.80L430.10,53.33L430.60,53.43L431.10,53.36L431.60,53.06L432.10,53.55L432.60,53.37L433.10,53.29L433.60,53.56L434.10,53.37L434.60,53.27L435.10,54.40L435.60,53.46L436.10,53.16L436.60,53.39M437.80,171.44L438.30,171.22L438.81,171.27L439.31,171.49L439.81,171.40L440.31,172.90L440.82,171.35L441.32,171.29L441.82,171.25L442.32,171.52L442.83,171.60L443.33,171.63L443.83,171.36L444.33,171.40L444.84,171.37L445.34,171.60L445.84,171.23L446.34,171.65L446.85,171.78L447.35,171.64L447.85,171.18L448.36,171.76L448.86,171.69L449.36,171.40L449.86,171.25L450.37,171.39L450.87,171.40L451.37,171.27L451.87,173.10L452.38,171.36L452.88,171.29L453.38,171.72L453.88,171.25L454.39,171.25L454.89,171.33L455.39,171.25L455.89,171.49L456.40,171.45L456.90,171.44M458.10,53.39L458.61,53.62L459.12,53.56L459.62,53.09L460.13,53.18L460.64,53.71L461.15,53.68L461.66,53.12L462.16,53.08L462.67,53.22L463.18,53.70L463.69,53.68L464.19,53.50L464.70,53.67L465.21,53.28L465.72,53.45L466.23,53.12L466.73,53.05L467.24,53.28L467.75,53.27L468.26,53.26L468.77,53.32L469.27,53.24L469.78,53.58L470.29,53.57L470.80,53.12L471.31,53.63L471.81,53.30L472.32,53.63L472.83,53.29L473.34,53.04L473.84,53.37L474.35,53.35L474.86,53.54L475.37,53.72L475.88,53.64L476.38,53.59L476.89,53.09L477.40,53.39M478.60,171.44L479.10,171.68L479.61,171.71L480.11,171.13L480.61,171.17L481.11,171.41L481.62,171.65L482.12,171.57L482.62,171.48L483.12,171.72L483.63,171.15L484.13,171.29L484.63,171.11L485.13,171.60L485.64,172.70L486.14,171.24L486.64,171.62L487.14,171.63L487.65,171.10L488.15,171.47L488.65,171.25L489.15,171.18L489.66,171.41L490.16,171.56L490.66,171.60L491.16,171.70L491.67,171.26L492.17,171.72L492.67,171.37L493.17,171.58L493.68,171.33L494.18,171.64L494.68,171.15L495.18,171.61L495.69,171.38L496.19,171.40L496.69,171.16L497.19,171.51L497.70,171.76L498.20,171.44M499.40,53.39L499.91,53.36L500.42,53.46L500.93,53.38L501.44,53.38L501.95,53.17L502.46,53.25L502.97,53.09L503.48,53.35L503.99,53.18L504.51,53.13L505.02,53.44L505.53,54.35L506.04,53.71L506.55,53.43L507.06,53.50L507.57,53.51L508.08,54.58L508.59,53.07L509.10,53.26L509.61,53.47L510.12,53.38L510.63,53.40L511.14,53.08L511.65,53.29L512.16,53.28L512.67,54.22L513.18,53.10L513.69,53.44L514.21,53.53L514.72,53.08L515.23,53.20L515.74,53.14L516.25,53.21L516.76,53.61L517.27,53.14L517.78,53.53L518.29,55.02L518.80,53.39M520.00,171.44L520.50,171.75L521.01,171.53L521.51,171.28L522.01,171.18L522.51,171.65L523.02,171.62L523.52,171.71L524.02,171.58L524.52,171.12L525.03,171.35L525.53,171.56L526.03,171.61L526.54,171.58L527.04,171.45L527.54,171.66L528.04,171.34L528.55,171.25L529.05,171.09L529.55,171.43L530.05,171.49L530.56,171.77L531.06,171.50L531.56,171.71L532.06,171.67L532.57,171.79L533.07,171.37L533.57,171.55L534.08,171.62L534.58,171.67L535.08,171.31L535.58,171.56L536.09,171.49L536.59,171.54L537.09,171.29L537.59,171.71L538.10,171.29L538.60,171.44M539.80,53.39L540.31,53.55L540.81,53.49L541.32,53.54L541.83,53.30L542.33,53.35L542.84,53.56L543.35,53.11L543.85,53.70L544.36,53.44L544.87,53.06L545.37,53.47L545.88,53.25L546.39,53.12L546.89,53.22L547.40,53.39" fill="none" stroke="#3a3a3a" stroke-width="1.7"/>
<path d="M367.70,148.09L368.00,148.61L368.30,148.98L368.60,149.71L368.90,150.04L369.20,150.65L369.50,150.95L369.80,151.88L370.10,152.31L370.40,152.79L370.70,152.86L371.00,153.75L371.30,153.72L371.60,154.48L371.90,154.86L372.20,155.01L372.50,155.63L372.80,156.31L373.10,156.53L373.40,156.72L373.70,157.38L374.00,157.46L374.30,158.13L374.60,158.17L374.90,158.30L375.00,158.66M376.20,119.55L376.40,118.75L376.70,116.63L377.00,115.20L377.30,114.00L377.60,112.14L377.90,110.97L378.20,109.77L378.50,108.24L378.80,106.78L379.10,105.73L379.40,104.51L379.70,103.14L380.00,101.97L380.30,100.62L380.60,99.53L380.90,98.78L381.20,97.68L381.50,96.05L381.80,95.14L382.10,94.15L382.40,93.52L382.70,92.21L383.00,91.27L383.30,90.72L383.60,89.48L383.90,89.11L384.20,87.95L384.50,87.40L384.80,86.56L385.10,85.42L385.40,85.01L385.70,84.05L386.00,83.21L386.30,82.41L386.60,82.12L386.90,81.37L387.20,80.56L387.50,80.25L387.80,79.25L388.10,78.80L388.40,77.99L388.70,77.58L389.00,77.34L389.30,76.57L389.60,75.83L389.90,75.37L390.20,75.11L390.50,74.40L390.80,74.28L391.10,73.32L391.40,73.35L391.70,72.76L392.00,72.45L392.30,71.75L392.60,71.17L392.90,70.83L393.20,70.71L393.50,69.97L393.80,69.65L394.10,69.69L394.40,69.40L394.70,69.04L395.00,68.69L395.30,68.20L395.60,68.07L395.90,67.54M397.10,106.71L397.10,106.83L397.40,108.37L397.70,109.87L398.00,111.17L398.30,112.72L398.60,114.28L398.90,115.83L399.20,117.02L399.50,118.89L399.80,119.98L400.10,121.37L400.40,122.72L400.70,123.55L401.00,125.14L401.30,126.35L401.60,127.07L401.90,128.09L402.20,129.58L402.50,130.69L402.80,131.66L403.10,132.43L403.40,133.52L403.70,134.18L404.00,135.18L404.30,136.19L404.60,137.27L404.90,137.73L405.20,139.07L405.50,139.35L405.80,140.71L406.10,141.05L406.40,142.15L406.70,142.89L407.00,143.69L407.30,144.10L407.60,144.92L407.90,145.34L408.20,146.32L408.50,146.51L408.80,147.60L409.10,148.02L409.40,148.29L409.70,149.39L410.00,149.57L410.30,149.97L410.60,150.61L410.90,150.99L411.20,151.64L411.50,152.39L411.80,153.04L412.10,153.29L412.40,153.88L412.70,154.30L413.00,154.67L413.30,154.89L413.60,155.22L413.90,155.56L414.20,156.19L414.50,156.36L414.80,157.06L415.10,157.17L415.40,157.67L415.70,158.00L416.00,158.38L416.30,158.42L416.40,158.74M417.60,119.62L417.80,118.39L418.10,117.06L418.40,115.23L418.70,114.00L419.00,112.71L419.30,110.93L419.60,109.88L419.90,108.31L420.20,107.19L420.50,105.64L420.80,104.52L421.10,103.25L421.40,101.76L421.70,100.78L422.00,99.68L422.30,98.50L422.60,97.54L422.90,96.63L423.20,95.54L423.50,94.55L423.80,93.17L424.10,92.55L424.40,91.58L424.70,90.86L425.00,89.41L425.30,88.66L425.60,88.30L425.90,87.12L426.20,86.52L426.50,85.68L426.80,84.80L427.10,84.09L427.40,83.45L427.70,83.00L428.00,82.04L428.30,81.53L428.60,80.59L428.90,80.20L429.20,79.52L429.50,79.00L429.80,78.49L430.10,77.44L430.40,77.42L430.70,76.66L431.00,75.92L431.30,75.52L431.60,74.80L431.90,74.39L432.20,74.27L432.50,73.73L432.80,73.37L433.10,72.50L433.40,72.04L433.70,71.78L434.00,71.44L434.30,71.17L434.60,70.53L434.90,70.41L435.20,69.95L435.50,69.41L435.80,69.36L436.10,68.58L436.40,68.56L436.60,68.28M437.80,107.38L437.90,107.74L438.20,109.24L438.50,111.06L438.80,112.60L439.10,114.13L439.40,115.43L439.70,117.16L440.00,118.44L440.30,119.40L440.60,120.61L440.90,122.45L441.20,123.35L441.50,124.37L441.80,125.59L442.10,127.05L442.40,127.85L442.70,129.05L443.00,130.30L443.30,131.13L443.60,132.32L443.90,133.48L444.20,134.35L444.50,135.18L444.80,136.09L445.10,136.79L445.40,137.85L445.70,138.70L446.00,139.48L446.30,140.22L446.60,141.16L446.90,141.59L447.20,142.64L447.50,143.52L447.80,143.66L448.10,144.48L448.40,145.59L448.70,145.70L449.00,146.78L449.30,147.26L449.60,147.56L449.90,148.48L450.20,148.69L450.50,149.75L450.80,149.97L451.10,150.88L451.40,151.38L451.70,151.43L452.00,152.08L452.30,152.42L452.60,153.25L452.90,153.31L453.20,153.74L453.50,154.20L453.80,155.07L454.10,155.12L454.40,155.56L454.70,156.03L455.00,156.48L455.30,156.77L455.60,157.45L455.90,157.44L456.20,157.87L456.50,158.44L456.80,158.39L456.90,158.66M458.10,119.54L458.30,118.27L458.60,117.08L458.90,115.23L459.20,114.07L459.50,112.56L459.80,110.86L460.10,109.44L460.40,107.95L460.70,107.08L461.00,105.53L461.30,104.22L461.60,102.89L461.90,101.72L462.20,100.94L462.50,99.36L462.80,98.51L463.10,97.47L463.40,96.35L463.70,95.32L464.00,94.25L464.30,93.15L464.60,92.58L464.90,91.70L465.20,90.59L465.50,89.52L465.80,89.06L466.10,87.80L466.40,86.96L466.70,86.44L467.00,85.79L467.30,84.88L467.60,83.86L467.90,83.66L468.20,82.47L468.50,81.90L468.80,81.62L469.10,80.85L469.40,80.20L469.70,79.17L470.00,79.04L470.30,78.18L470.60,77.37L470.90,77.28L471.20,76.83L471.50,75.77L471.80,75.49L472.10,75.26L472.40,74.43L472.70,73.93L473.00,73.75L473.30,73.09L473.60,72.98L473.90,72.47L474.20,72.05L474.50,71.55L474.80,70.84L475.10,70.74L475.40,70.30L475.70,69.87L476.00,69.56L476.30,69.05L476.60,68.64L476.90,68.74L477.20,68.08L477.40,67.95M478.60,107.08L478.70,107.39L479.00,109.51L479.30,110.79L479.60,112.41L479.90,113.69L480.20,115.03L480.50,116.54L480.80,118.22L481.10,119.22L481.40,120.91L481.70,121.82L482.00,123.42L482.30,124.19L482.60,125.53L482.90,126.49L483.20,127.63L483.50,128.94L483.80,129.91L484.10,131.06L484.40,131.87L484.70,132.92L485.00,133.89L485.30,135.17L485.60,135.59L485.90,136.69L486.20,137.82L486.50,138.50L486.80,139.13L487.10,140.38L487.40,140.63L487.70,141.41L488.00,142.09L488.30,143.07L488.60,144.03L488.90,144.37L489.20,145.05L489.50,146.01L489.80,146.22L490.10,146.81L490.40,147.80L490.70,148.05L491.00,148.89L491.30,149.23L491.60,150.05L491.90,150.74L492.20,151.02L492.50,151.42L492.80,152.13L493.10,152.66L493.40,152.74L493.70,153.31L494.00,153.84L494.30,154.35L494.60,154.64L494.90,155.29L495.20,155.45L495.50,156.23L495.80,156.29L496.10,156.58L496.40,156.86L496.70,157.25L497.00,157.65L497.30,158.39L497.60,158.44L497.90,158.78L498.20,159.12M499.40,119.96L499.40,120.24L499.70,118.62L500.00,116.92L500.30,115.07L500.60,113.62L500.90,112.26L501.20,110.69L501.50,109.35L501.80,107.91L502.10,106.61L502.40,105.62L502.70,104.28L503.00,102.96L503.30,101.78L503.60,100.70L503.90,99.61L504.20,98.11L504.50,97.52L504.80,96.24L505.10,95.14L505.40,94.51L505.70,93.42L506.00,92.23L506.30,91.11L506.60,90.45L506.90,89.57L507.20,88.68L507.50,87.67L507.80,87.15L508.10,86.16L508.40,85.69L508.70,84.79L509.00,83.92L509.30,83.52L509.60,82.59L509.90,81.69L510.20,81.14L510.50,80.36L510.80,79.96L511.10,79.63L511.40,79.05L511.70,78.29L512.00,77.42L512.30,76.91L512.60,76.35L512.90,75.92L513.20,75.57L513.50,74.69L513.80,74.49L514.10,73.97L514.40,73.65L514.70,73.29L515.00,72.59L515.30,72.28L515.60,71.66L515.90,71.36L516.20,71.07L516.50,70.33L516.80,70.23L517.10,69.85L517.40,69.30L517.70,68.99L518.00,68.99L518.30,68.37L518.60,67.95L518.80,67.93M520.00,107.06L520.10,107.47L520.40,109.22L520.70,110.70L521.00,112.20L521.30,113.66L521.60,115.05L521.90,116.63L522.20,118.06L522.50,119.09L522.80,120.70L523.10,121.81L523.40,123.45L523.70,124.63L524.00,125.33L524.30,126.82L524.60,127.73L524.90,128.68L525.20,130.21L525.50,131.26L525.80,132.20L526.10,133.10L526.40,134.27L526.70,134.95L527.00,135.94L527.30,136.82L527.60,137.81L527.90,138.65L528.20,139.15L528.50,139.90L528.80,140.88L529.10,141.68L529.40,142.28L529.70,143.31L530.00,144.01L530.30,144.61L530.60,145.19L530.90,145.94L531.20,146.28L531.50,147.27L531.80,147.47L532.10,148.53L532.40,148.94L532.70,149.30L533.00,149.80L533.30,150.58L533.60,151.02L533.90,151.67L534.20,151.80L534.50,152.75L534.80,152.96L535.10,153.42L535.40,154.05L535.70,154.41L536.00,154.74L536.30,155.06L536.60,155.57L536.90,155.70L537.20,156.22L537.50,156.94L537.80,156.88L538.10,157.22L538.40,158.02L538.60,158.04M539.80,118.99L539.90,118.37L540.20,116.89L540.50,115.38L540.80,113.95L541.10,112.25L541.40,111.09L541.70,109.23L542.00,108.38L542.30,106.73L542.60,105.63L542.90,104.18L543.20,103.22L543.50,101.80L543.80,100.77L544.10,99.47L544.40,98.67L544.70,97.55L545.00,96.15L545.30,95.46L545.60,94.57L545.90,93.17L546.20,92.19L546.50,91.71L546.80,90.83L547.10,89.44L547.40,88.97L547.40,88.81" fill="none" stroke="#f00" stroke-width="1.15"/>
<path d="M374.95,158.61L375.00,158.66L375.10,155.71L375.20,152.69L375.30,149.62L375.40,146.50L375.50,143.32L375.60,140.08L375.70,136.79L375.80,133.45L375.90,130.05L376.00,126.61L376.10,123.10L376.20,119.55M395.85,67.59L395.90,67.54L396.00,70.50L396.10,73.52L396.20,76.59L396.30,79.72L396.40,82.91L396.50,86.15L396.60,89.44L396.70,92.79L396.80,96.19L396.90,99.64L397.00,103.15L397.10,106.71M416.35,158.68L416.40,158.74L416.50,155.78L416.60,152.77L416.70,149.70L416.80,146.57L416.90,143.39L417.00,140.15L417.10,136.86L417.20,133.52L417.30,130.12L417.40,126.67L417.50,123.17L417.60,119.62M436.55,68.34L436.60,68.28L436.70,71.24L436.80,74.25L436.90,77.32L437.00,80.45L437.10,83.62L437.20,86.86L437.30,90.15L437.40,93.49L437.50,96.88L437.60,100.33L437.70,103.83L437.80,107.38M456.85,158.60L456.90,158.66L457.00,155.70L457.10,152.69L457.20,149.62L457.30,146.49L457.40,143.31L457.50,140.08L457.60,136.79L457.70,133.44L457.80,130.05L457.90,126.60L458.00,123.10L458.10,119.54M477.35,68.00L477.40,67.95L477.50,70.91L477.60,73.92L477.70,76.99L477.80,80.12L477.90,83.30L478.00,86.54L478.10,89.83L478.20,93.18L478.30,96.57L478.40,100.02L478.50,103.53L478.60,107.08M498.15,159.07L498.20,159.12L498.30,156.16L498.40,153.15L498.50,150.07L498.60,146.94L498.70,143.76L498.80,140.52L498.90,137.23L499.00,133.88L499.10,130.48L499.20,127.03L499.30,123.52L499.40,119.96M518.75,67.98L518.80,67.93L518.90,70.88L519.00,73.90L519.10,76.97L519.20,80.10L519.30,83.28L519.40,86.52L519.50,89.81L519.60,93.15L519.70,96.55L519.80,100.00L519.90,103.51L520.00,107.06M538.55,157.99L538.60,158.04L538.70,155.09L538.80,152.08L538.90,149.02L539.00,145.90L539.10,142.72L539.20,139.49L539.30,136.21L539.40,132.87L539.50,129.48L539.60,126.03L539.70,122.54L539.80,118.99" fill="none" stroke="#f22" stroke-width="0.8"/>
<path d="M37.5,19.50h3.5M257.7,19.50h-3.5M37.5,41.36h3.5M257.7,41.36h-3.5M37.5,63.23h3.5M257.7,63.23h-3.5M37.5,85.09h3.5M257.7,85.09h-3.5M37.5,106.95h3.5M257.7,106.95h-3.5M37.5,128.81h3.5M257.7,128.81h-3.5M37.5,150.68h3.5M257.7,150.68h-3.5M37.5,172.54h3.5M257.7,172.54h-3.5M37.5,194.40h3.5M257.7,194.40h-3.5M37.5,30.43h2M257.7,30.43h-2M37.5,52.29h2M257.7,52.29h-2M37.5,74.16h2M257.7,74.16h-2M37.5,96.02h2M257.7,96.02h-2M37.5,117.88h2M257.7,117.88h-2M37.5,139.74h2M257.7,139.74h-2M37.5,161.61h2M257.7,161.61h-2M37.5,183.47h2M257.7,183.47h-2M59.52,194.4v-3.5M59.52,19.5v3.5M103.56,194.4v-3.5M103.56,19.5v3.5M147.60,194.4v-3.5M147.60,19.5v3.5M191.64,194.4v-3.5M191.64,19.5v3.5M235.68,194.4v-3.5M235.68,19.5v3.5M81.54,194.4v-2M81.54,19.5v2M125.58,194.4v-2M125.58,19.5v2M169.62,194.4v-2M169.62,19.5v2M213.66,194.4v-2M213.66,19.5v2" stroke="#484848" stroke-width="1" fill="none"/>
<path d="M345.4,19.75h3.5M570.0,19.75h-3.5M345.4,41.64h3.5M570.0,41.64h-3.5M345.4,63.54h3.5M570.0,63.54h-3.5M345.4,85.43h3.5M570.0,85.43h-3.5M345.4,107.33h3.5M570.0,107.33h-3.5M345.4,129.22h3.5M570.0,129.22h-3.5M345.4,151.11h3.5M570.0,151.11h-3.5M345.4,173.01h3.5M570.0,173.01h-3.5M345.4,194.90h3.5M570.0,194.90h-3.5M345.4,30.70h2M570.0,30.70h-2M345.4,52.59h2M570.0,52.59h-2M345.4,74.48h2M570.0,74.48h-2M345.4,96.38h2M570.0,96.38h-2M345.4,118.27h2M570.0,118.27h-2M345.4,140.17h2M570.0,140.17h-2M345.4,162.06h2M570.0,162.06h-2M345.4,183.95h2M570.0,183.95h-2M367.80,194.9v-3.5M367.80,19.75v3.5M412.60,194.9v-3.5M412.60,19.75v3.5M457.40,194.9v-3.5M457.40,19.75v3.5M502.20,194.9v-3.5M502.20,19.75v3.5M547.00,194.9v-3.5M547.00,19.75v3.5M390.20,194.9v-2M390.20,19.75v2M435.00,194.9v-2M435.00,19.75v2M479.80,194.9v-2M479.80,19.75v2M524.60,194.9v-2M524.60,19.75v2" stroke="#484848" stroke-width="1" fill="none"/>
<text x="33.70" y="22.10" text-anchor="end" class="tk">2.0</text>
<text x="33.70" y="43.96" text-anchor="end" class="tk">1.5</text>
<text x="33.70" y="65.83" text-anchor="end" class="tk">1.0</text>
<text x="33.70" y="87.69" text-anchor="end" class="tk">0.5</text>
<text x="33.70" y="109.55" text-anchor="end" class="tk">0.0</text>
<text x="33.70" y="131.41" text-anchor="end" class="tk">-0.5</text>
<text x="33.70" y="153.28" text-anchor="end" class="tk">-1.0</text>
<text x="33.70" y="175.14" text-anchor="end" class="tk">-1.5</text>
<text x="33.70" y="197.00" text-anchor="end" class="tk">-2.0</text>
<text x="341.60" y="22.35" text-anchor="end" class="tk">2.0</text>
<text x="341.60" y="44.24" text-anchor="end" class="tk">1.5</text>
<text x="341.60" y="66.14" text-anchor="end" class="tk">1.0</text>
<text x="341.60" y="88.03" text-anchor="end" class="tk">0.5</text>
<text x="341.60" y="109.92" text-anchor="end" class="tk">0.0</text>
<text x="341.60" y="131.82" text-anchor="end" class="tk">-0.5</text>
<text x="341.60" y="153.71" text-anchor="end" class="tk">-1.0</text>
<text x="341.60" y="175.61" text-anchor="end" class="tk">-1.5</text>
<text x="341.60" y="197.50" text-anchor="end" class="tk">-2.0</text>
<text x="59.52" y="204.80" text-anchor="middle" class="tk">0</text>
<text x="103.56" y="204.80" text-anchor="middle" class="tk">50μ</text>
<text x="147.60" y="204.80" text-anchor="middle" class="tk">100μ</text>
<text x="191.64" y="204.80" text-anchor="middle" class="tk">150μ</text>
<text x="235.68" y="204.80" text-anchor="middle" class="tk">200μ</text>
<text x="367.80" y="205.30" text-anchor="middle" class="tk">0</text>
<text x="412.60" y="205.30" text-anchor="middle" class="tk">5μ</text>
<text x="457.40" y="205.30" text-anchor="middle" class="tk">10μ</text>
<text x="502.20" y="205.30" text-anchor="middle" class="tk">15μ</text>
<text x="547.00" y="205.30" text-anchor="middle" class="tk">20μ</text>
<rect x="217.5" y="19.5" width="40.19999999999999" height="28.0" fill="#fff" stroke="#c8c8c8" stroke-width="1"/>
<path d="M218.5,25.6H239.5" stroke="#999" stroke-width="1"/>
<path d="M218.5,39.4H239.5" stroke="#ff4050" stroke-width="1"/>
<text x="241.0" y="29.4" class="lg">V<tspan class="sb" dy="2.3">in</tspan></text>
<text x="241.0" y="42.8" class="lg">V<tspan class="sb" dy="1.6">out</tspan></text>
<rect x="528.5" y="19.5" width="40.89999999999998" height="28.0" fill="#fff" stroke="#c8c8c8" stroke-width="1"/>
<path d="M529.5,25.8H550.5" stroke="#999" stroke-width="1"/>
<path d="M529.5,39.2H550.5" stroke="#ff4050" stroke-width="1"/>
<text x="553.2" y="29.6" class="lg">V<tspan class="sb" dy="2.3">in</tspan></text>
<text x="553.2" y="42.9" class="lg">V<tspan class="sb" dy="1.6">out</tspan></text>
<rect x="37.5" y="19.5" width="220.20" height="174.90" fill="none" stroke="#484848" stroke-width="1"/>
<rect x="345.4" y="19.75" width="224.60" height="175.15" fill="none" stroke="#484848" stroke-width="1"/>
<text x="95.2" y="11.8" class="ti">R = 19 kΩ</text>
<text x="149" y="11.8" class="ti">f<tspan font-size="6" dy="2">c</tspan><tspan dy="-2"> = 200 kHz</tspan></text>
<text x="406.8" y="14.7" class="ti">R = 19 kΩ</text>
<text x="462.4" y="14.7" class="ti">f<tspan font-size="6" dy="2">c</tspan><tspan dy="-2"> = 200 kHz</tspan></text>
<path d="M141.00,41.00C141.90,42.00 142.60,41.00 143.10,39.60L145.30,33.40C145.90,31.60 147.10,30.80 148.80,31.70" fill="none" stroke="#111" stroke-width="1.3" stroke-linecap="round"/>
<path d="M143.90,34.40H146.70" stroke="#222" stroke-width="0.75"/>
<text x="152.0" y="39.5" class="op">&lt;</text>
<path d="M163.20,41.00C164.10,42.00 164.80,41.00 165.30,39.60L167.50,33.40C168.10,31.60 169.30,30.80 171.00,31.70" fill="none" stroke="#111" stroke-width="1.3" stroke-linecap="round"/>
<path d="M166.10,34.40H168.90" stroke="#222" stroke-width="0.75"/>
<text x="168.6" y="42.2" class="fc">c</text>
<path d="M438.00,41.00C438.90,42.00 439.60,41.00 440.10,39.60L442.30,33.40C442.90,31.60 444.10,30.80 445.80,31.70" fill="none" stroke="#111" stroke-width="1.3" stroke-linecap="round"/>
<path d="M440.90,34.40H443.70" stroke="#222" stroke-width="0.75"/>
<text x="449.4" y="39.5" class="op">&gt;</text>
<path d="M460.30,41.00C461.20,42.00 461.90,41.00 462.40,39.60L464.60,33.40C465.20,31.60 466.40,30.80 468.10,31.70" fill="none" stroke="#111" stroke-width="1.3" stroke-linecap="round"/>
<path d="M463.20,34.40H466.00" stroke="#222" stroke-width="0.75"/>
<text x="466.0" y="42.0" class="fc">c</text>
<text x="114.6" y="225.3" class="ax">Time (s)</text>
<text x="435.5" y="223" class="ax" style="font-size:11.7px">Time (s)</text>
<text transform="translate(11.3,106.9) rotate(-90)" text-anchor="middle" class="ax" style="font-size:11.8px">Voltage (V)</text>
<text transform="translate(315,106.9) rotate(-90)" text-anchor="middle" class="ax" style="font-size:11.8px">Voltage (V)</text>
<text x="135.1" y="257.5" style="font-size:15.4px;fill:#111;stroke:#111;stroke-width:0.3">(a)</text>
<text x="448.8" y="254" style="font-size:15.4px;fill:#111;stroke:#111;stroke-width:0.3">(b)</text>
</svg>
</body></html>
